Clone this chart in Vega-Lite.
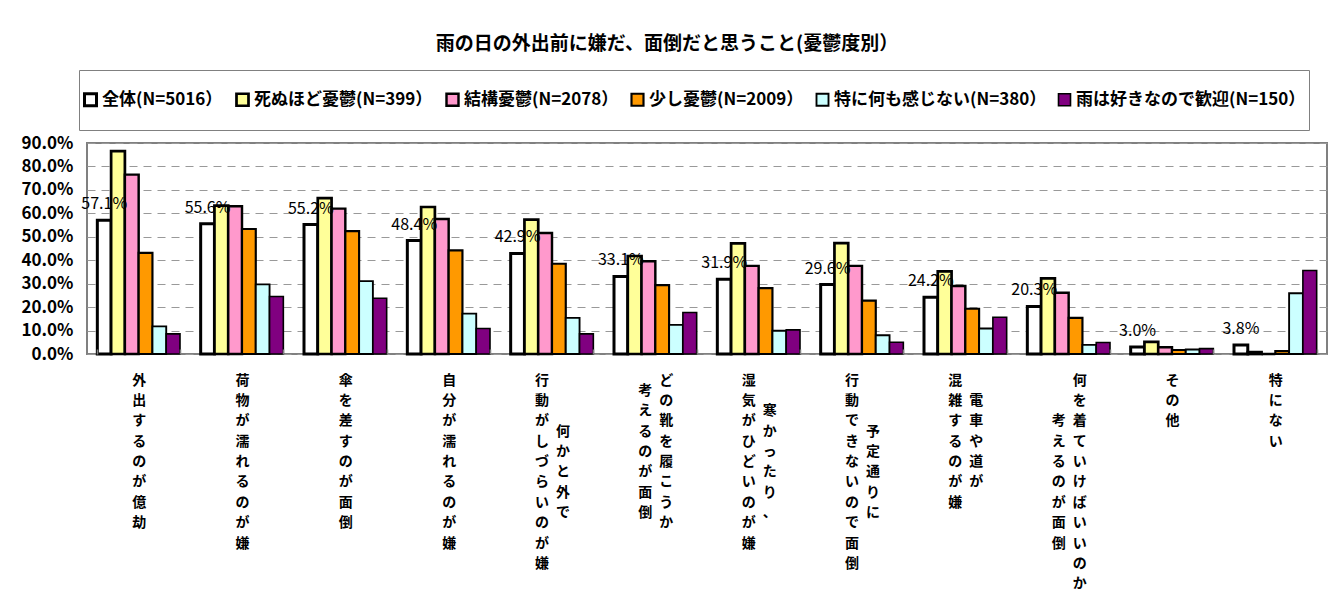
{
  "$schema": "https://vega.github.io/schema/vega-lite/v6.json",
  "width": 1240,
  "height": 211,
  "autosize": {"type": "none"},
  "padding": {"left": 87, "top": 143, "right": 6, "bottom": 248},
  "background": "white",
  "title": {
    "text": "雨の日の外出前に嫌だ、面倒だと思うこと(憂鬱度別）",
    "anchor": "middle",
    "frame": "group",
    "dx": -40,
    "offset": 16,
    "font": "Noto Sans CJK JP",
    "fontSize": 19,
    "fontWeight": "bold",
    "color": "black"
  },
  "config": {
    "view": {"stroke": "#808080", "strokeWidth": 2}
  },
  "data": {
    "values": [
      {"cat": "外出するのが億劫", "series": "全体(N=5016）", "value": 0.571},
      {"cat": "外出するのが億劫", "series": "死ぬほど憂鬱(N=399）", "value": 0.865},
      {"cat": "外出するのが億劫", "series": "結構憂鬱(N=2078）", "value": 0.765},
      {"cat": "外出するのが億劫", "series": "少し憂鬱(N=2009）", "value": 0.431},
      {"cat": "外出するのが億劫", "series": "特に何も感じない(N=380）", "value": 0.118},
      {"cat": "外出するのが億劫", "series": "雨は好きなので歓迎(N=150）", "value": 0.086},
      {"cat": "荷物が濡れるのが嫌", "series": "全体(N=5016）", "value": 0.556},
      {"cat": "荷物が濡れるのが嫌", "series": "死ぬほど憂鬱(N=399）", "value": 0.633},
      {"cat": "荷物が濡れるのが嫌", "series": "結構憂鬱(N=2078）", "value": 0.630},
      {"cat": "荷物が濡れるのが嫌", "series": "少し憂鬱(N=2009）", "value": 0.533},
      {"cat": "荷物が濡れるのが嫌", "series": "特に何も感じない(N=380）", "value": 0.297},
      {"cat": "荷物が濡れるのが嫌", "series": "雨は好きなので歓迎(N=150）", "value": 0.245},
      {"cat": "傘を差すのが面倒", "series": "全体(N=5016）", "value": 0.552},
      {"cat": "傘を差すのが面倒", "series": "死ぬほど憂鬱(N=399）", "value": 0.665},
      {"cat": "傘を差すのが面倒", "series": "結構憂鬱(N=2078）", "value": 0.620},
      {"cat": "傘を差すのが面倒", "series": "少し憂鬱(N=2009）", "value": 0.524},
      {"cat": "傘を差すのが面倒", "series": "特に何も感じない(N=380）", "value": 0.311},
      {"cat": "傘を差すのが面倒", "series": "雨は好きなので歓迎(N=150）", "value": 0.238},
      {"cat": "自分が濡れるのが嫌", "series": "全体(N=5016）", "value": 0.484},
      {"cat": "自分が濡れるのが嫌", "series": "死ぬほど憂鬱(N=399）", "value": 0.627},
      {"cat": "自分が濡れるのが嫌", "series": "結構憂鬱(N=2078）", "value": 0.576},
      {"cat": "自分が濡れるのが嫌", "series": "少し憂鬱(N=2009）", "value": 0.442},
      {"cat": "自分が濡れるのが嫌", "series": "特に何も感じない(N=380）", "value": 0.172},
      {"cat": "自分が濡れるのが嫌", "series": "雨は好きなので歓迎(N=150）", "value": 0.109},
      {"cat": "何かと外で行動がしづらいのが嫌", "series": "全体(N=5016）", "value": 0.429},
      {"cat": "何かと外で行動がしづらいのが嫌", "series": "死ぬほど憂鬱(N=399）", "value": 0.573},
      {"cat": "何かと外で行動がしづらいのが嫌", "series": "結構憂鬱(N=2078）", "value": 0.516},
      {"cat": "何かと外で行動がしづらいのが嫌", "series": "少し憂鬱(N=2009）", "value": 0.385},
      {"cat": "何かと外で行動がしづらいのが嫌", "series": "特に何も感じない(N=380）", "value": 0.154},
      {"cat": "何かと外で行動がしづらいのが嫌", "series": "雨は好きなので歓迎(N=150）", "value": 0.086},
      {"cat": "どの靴を履こうか考えるのが面倒", "series": "全体(N=5016）", "value": 0.331},
      {"cat": "どの靴を履こうか考えるのが面倒", "series": "死ぬほど憂鬱(N=399）", "value": 0.418},
      {"cat": "どの靴を履こうか考えるのが面倒", "series": "結構憂鬱(N=2078）", "value": 0.396},
      {"cat": "どの靴を履こうか考えるのが面倒", "series": "少し憂鬱(N=2009）", "value": 0.294},
      {"cat": "どの靴を履こうか考えるのが面倒", "series": "特に何も感じない(N=380）", "value": 0.124},
      {"cat": "どの靴を履こうか考えるのが面倒", "series": "雨は好きなので歓迎(N=150）", "value": 0.177},
      {"cat": "寒かったり、湿気がひどいのが嫌", "series": "全体(N=5016）", "value": 0.319},
      {"cat": "寒かったり、湿気がひどいのが嫌", "series": "死ぬほど憂鬱(N=399）", "value": 0.472},
      {"cat": "寒かったり、湿気がひどいのが嫌", "series": "結構憂鬱(N=2078）", "value": 0.376},
      {"cat": "寒かったり、湿気がひどいのが嫌", "series": "少し憂鬱(N=2009）", "value": 0.281},
      {"cat": "寒かったり、湿気がひどいのが嫌", "series": "特に何も感じない(N=380）", "value": 0.099},
      {"cat": "寒かったり、湿気がひどいのが嫌", "series": "雨は好きなので歓迎(N=150）", "value": 0.103},
      {"cat": "予定通りに行動できないので面倒", "series": "全体(N=5016）", "value": 0.296},
      {"cat": "予定通りに行動できないので面倒", "series": "死ぬほど憂鬱(N=399）", "value": 0.473},
      {"cat": "予定通りに行動できないので面倒", "series": "結構憂鬱(N=2078）", "value": 0.376},
      {"cat": "予定通りに行動できないので面倒", "series": "少し憂鬱(N=2009）", "value": 0.228},
      {"cat": "予定通りに行動できないので面倒", "series": "特に何も感じない(N=380）", "value": 0.080},
      {"cat": "予定通りに行動できないので面倒", "series": "雨は好きなので歓迎(N=150）", "value": 0.050},
      {"cat": "電車や道が混雑するのが嫌", "series": "全体(N=5016）", "value": 0.242},
      {"cat": "電車や道が混雑するのが嫌", "series": "死ぬほど憂鬱(N=399）", "value": 0.352},
      {"cat": "電車や道が混雑するのが嫌", "series": "結構憂鬱(N=2078）", "value": 0.290},
      {"cat": "電車や道が混雑するのが嫌", "series": "少し憂鬱(N=2009）", "value": 0.193},
      {"cat": "電車や道が混雑するのが嫌", "series": "特に何も感じない(N=380）", "value": 0.109},
      {"cat": "電車や道が混雑するのが嫌", "series": "雨は好きなので歓迎(N=150）", "value": 0.157},
      {"cat": "何を着ていけばいいのか考えるのが面倒", "series": "全体(N=5016）", "value": 0.203},
      {"cat": "何を着ていけばいいのか考えるのが面倒", "series": "死ぬほど憂鬱(N=399）", "value": 0.323},
      {"cat": "何を着ていけばいいのか考えるのが面倒", "series": "結構憂鬱(N=2078）", "value": 0.261},
      {"cat": "何を着ていけばいいのか考えるのが面倒", "series": "少し憂鬱(N=2009）", "value": 0.154},
      {"cat": "何を着ていけばいいのか考えるのが面倒", "series": "特に何も感じない(N=380）", "value": 0.039},
      {"cat": "何を着ていけばいいのか考えるのが面倒", "series": "雨は好きなので歓迎(N=150）", "value": 0.049},
      {"cat": "その他", "series": "全体(N=5016）", "value": 0.030},
      {"cat": "その他", "series": "死ぬほど憂鬱(N=399）", "value": 0.052},
      {"cat": "その他", "series": "結構憂鬱(N=2078）", "value": 0.029},
      {"cat": "その他", "series": "少し憂鬱(N=2009）", "value": 0.017},
      {"cat": "その他", "series": "特に何も感じない(N=380）", "value": 0.019},
      {"cat": "その他", "series": "雨は好きなので歓迎(N=150）", "value": 0.023},
      {"cat": "特にない", "series": "全体(N=5016）", "value": 0.038},
      {"cat": "特にない", "series": "死ぬほど憂鬱(N=399）", "value": 0.008},
      {"cat": "特にない", "series": "結構憂鬱(N=2078）", "value": 0.0},
      {"cat": "特にない", "series": "少し憂鬱(N=2009）", "value": 0.012},
      {"cat": "特にない", "series": "特に何も感じない(N=380）", "value": 0.259},
      {"cat": "特にない", "series": "雨は好きなので歓迎(N=150）", "value": 0.356}
    ]
  },
  "encoding": {
    "x": {
      "field": "cat",
      "type": "nominal",
      "sort": null,
      "title": null,
      "scale": {"paddingInner": 0.2, "paddingOuter": 0.1},
      "axis": {
        "labelAngle": 0,
        "labelFont": "Noto Sans CJK JP",
        "labelFontWeight": "bold",
        "labelFontSize": 14,
        "labelColor": "black",
        "labelLineHeight": 10.2,
        "labelBaseline": "top",
        "labelPadding": 19,
        "labelOverlap": false,
        "labelBound": false,
        "labelLimit": 0,
        "offset": -5,
        "zindex": 1,
        "domain": false,
        "ticks": true,
        "tickBand": "extent",
        "tickSize": 5,
        "tickColor": "#808080",
        "tickWidth": 1.5,
        "grid": false,
        "labelExpr": "split(replace(replace(replace((['外|_|出|_|す|_|る|_|の|_|が|_|億|_|劫','荷|_|物|_|が|_|濡|_|れ|_|る|_|の|_|が|_|嫌','傘|_|を|_|差|_|す|_|の|_|が|_|面|_|倒','自|_|分|_|が|_|濡|_|れ|_|る|_|の|_|が|_|嫌','行_|__|動_|__|が_|_何|し_|_か|づ_|_と|ら_|_外|い_|_で|の_|__|が_|__|嫌_','_ど|考_|_の|え_|_靴|る_|_を|の_|_履|が_|_こ|面_|_う|倒_|_か','湿_|__|気_|_寒|が_|_か|ひ_|_っ|ど_|_た|い_|_り|の_|_、|が_|__|嫌_','行_|__|動_|__|で_|_予|き_|_定|な_|_通|い_|_り|の_|_に|で_|__|面_|__|倒_','混_|__|雑電|__|す車|__|るや|__|の道|__|がが|__|嫌_','_何|__|_を|__|考着|__|えて|__|るい|__|のけ|__|がば|__|面い|__|倒い|__|_の|__|_か','そ|_|の|_|他','特|_|に|_|な|_|い'][indexof(['外出するのが億劫','荷物が濡れるのが嫌','傘を差すのが面倒','自分が濡れるのが嫌','何かと外で行動がしづらいのが嫌','どの靴を履こうか考えるのが面倒','寒かったり、湿気がひどいのが嫌','予定通りに行動できないので面倒','電車や道が混雑するのが嫌','何を着ていけばいいのか考えるのが面倒','その他','特にない'], datum.value)] || ''), regexp('([^|])([^|])', 'g'), '$1\u2002$2'), regexp('_', 'g'), '\u3000'), regexp('[^|]+', 'g'), '\u200b$&\u200b'), '|')"
      }
    },
    "xOffset": {
      "field": "series",
      "type": "nominal",
      "sort": null,
      "scale": {
        "domain": ["全体(N=5016）", "死ぬほど憂鬱(N=399）", "結構憂鬱(N=2078）", "少し憂鬱(N=2009）", "特に何も感じない(N=380）", "雨は好きなので歓迎(N=150）"],
        "paddingInner": 0,
        "paddingOuter": 0
      }
    },
    "y": {
      "field": "value",
      "type": "quantitative",
      "title": null,
      "scale": {"domain": [0, 0.9], "nice": false},
      "axis": {
        "values": [0, 0.1, 0.2, 0.3, 0.4, 0.5, 0.6, 0.7, 0.8, 0.9],
        "format": ".1%",
        "labelFont": "Noto Sans CJK JP",
        "labelFontWeight": "bold",
        "labelFontSize": 17,
        "labelColor": "black",
        "labelPadding": 14,
        "domain": false,
        "ticks": false,
        "grid": true,
        "gridDash": [8, 6],
        "gridColor": "#999999",
        "gridWidth": 1
      }
    }
  },
  "layer": [
    {
      "mark": {"type": "bar", "stroke": "black"},
      "encoding": {
        "color": {
          "field": "series",
          "type": "nominal",
          "scale": {
            "domain": ["全体(N=5016）", "死ぬほど憂鬱(N=399）", "結構憂鬱(N=2078）", "少し憂鬱(N=2009）", "特に何も感じない(N=380）", "雨は好きなので歓迎(N=150）"],
            "range": ["#FFFFFF", "#FFFF99", "#FF99CC", "#FF9900", "#CCFFFF", "#800080"]
          },
          "legend": {
            "orient": "none",
            "legendX": -8,
            "legendY": -73,
            "direction": "horizontal",
            "title": "\u200b",
            "titleFontSize": 10,
            "titlePadding": 8,
            "strokeColor": "#808080",
            "padding": 3,
            "symbolType": "square",
            "symbolSize": 144,
            "symbolStrokeColor": "black",
            "labelFont": "Noto Sans CJK JP",
            "labelFontWeight": "bold",
            "labelFontSize": 17,
            "labelColor": "black",
            "labelLimit": 400,
            "labelOffset": 3,
            "columnPadding": 8,
            "labelExpr": "[datum.label, '\u200b']",
            "labelLineHeight": 16,
            "labelBaseline": "middle"
          }
        },
        "strokeWidth": {
          "field": "series",
          "type": "nominal",
          "scale": {
            "domain": ["全体(N=5016）", "死ぬほど憂鬱(N=399）", "結構憂鬱(N=2078）", "少し憂鬱(N=2009）", "特に何も感じない(N=380）", "雨は好きなので歓迎(N=150）"],
            "range": [3, 1.6, 1.6, 1.6, 1.6, 1.6]
          },
          "legend": {
            "orient": "none",
            "legendX": -8,
            "legendY": -73,
            "direction": "horizontal",
            "title": "\u200b"
          }
        }
      }
    },
    {
      "transform": [{"filter": "datum.series == '全体(N=5016）'"}],
      "mark": {
        "type": "text",
        "baseline": "middle",
        "align": "center",
        "dy": -16,
        "font": "Noto Sans CJK JP",
        "fontSize": 16,
        "color": "black"
      },
      "encoding": {
        "text": {"field": "value", "type": "quantitative", "format": ".1%"}
      }
    }
  ]
}
